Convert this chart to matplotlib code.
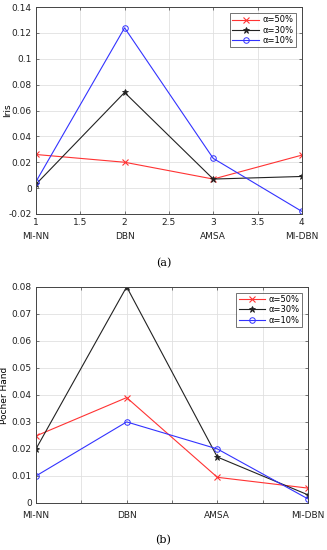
import matplotlib as mpl
mpl.use('Agg')
import matplotlib.pyplot as plt

methods = ['MI-NN', 'DBN', 'AMSA', 'MI-DBN']
xs = [1, 2, 3, 4]
labels = ['α=50%', 'α=30%', 'α=10%']

# (a) Iris
iris_50 = [0.026, 0.020, 0.007, 0.0255]
iris_30 = [0.003, 0.074, 0.007, 0.009]
iris_10 = [0.005, 0.124, 0.023, -0.018]

# (b) Pocher Hand
poker_50 = [0.0248, 0.039, 0.0095, 0.0055]
poker_30 = [0.020, 0.080, 0.017, 0.003]
poker_10 = [0.010, 0.030, 0.020, 0.0015]

plt.rcParams['font.family'] = ['DejaVu Sans']
plt.rcParams['font.size'] = 6.5

styles = [dict(color='#ff3333', marker='x', ms=4, mew=0.8),
          dict(color='#222222', marker='*', ms=4.5, mew=0.6),
          dict(color='#3333ff', marker='o', ms=4, mfc='none', mew=0.7)]


def style_axes(ax):
    for s in ax.spines.values():
        s.set_color('#444444')
        s.set_linewidth(0.7)
    ax.tick_params(direction='in', top=True, right=True, length=2.5,
                   width=0.5, colors='#444444', labelcolor='#222222', pad=3)
    ax.grid(True, color='#e0e0e0', linewidth=0.6)
    ax.set_axisbelow(True)


def draw(ax, series):
    for ys, lab, st in zip(series, labels, styles):
        ax.plot(xs, ys, lw=0.8, label=lab, **st)
    leg = ax.legend(loc='upper right', fancybox=False, edgecolor='#333333',
                    fontsize=6, handlelength=3.2, borderpad=0.3,
                    labelspacing=0.15, handletextpad=0.4, borderaxespad=0.7)
    leg.get_frame().set_linewidth(0.6)


fig = plt.figure(figsize=(3.27, 5.5), dpi=100)

ax1 = fig.add_axes([0.110, 0.611, 0.813, 0.376])
draw(ax1, [iris_50, iris_30, iris_10])
ax1.set_xlim(1, 4)
ax1.set_ylim(-0.02, 0.14)
ax1.set_xticks([1, 1.5, 2, 2.5, 3, 3.5, 4])
ax1.set_xticklabels(['1', '1.5', '2', '2.5', '3', '3.5', '4'])
ax1.set_yticks([-0.02, 0, 0.02, 0.04, 0.06, 0.08, 0.1, 0.12, 0.14])
ax1.set_yticklabels(['-0.02', '0', '0.02', '0.04', '0.06', '0.08', '0.1', '0.12', '0.14'])
ax1.set_ylabel('Iris')
ax1.yaxis.set_label_coords(-0.09, 0.5)
style_axes(ax1)
for x, m in zip(xs, methods):
    ax1.annotate(m, xy=(x, 0), xycoords=('data', 'axes fraction'),
                 xytext=(0, -16.5), textcoords='offset points',
                 ha='center', va='center', fontsize=6.5, color='#222222')
fig.text(0.5, 0.522, '(a)', ha='center', va='center', fontsize=8,
         family='DejaVu Serif')

ax2 = fig.add_axes([0.110, 0.0855, 0.832, 0.393])
draw(ax2, [poker_50, poker_30, poker_10])
ax2.set_xlim(1, 4)
ax2.set_ylim(0, 0.08)
ax2.set_xticks(xs)
ax2.set_xticklabels(methods)
ax2.set_xticks([1.5, 2.5, 3.5], minor=True)
ax2.grid(True, which='minor', axis='x', color='#e0e0e0', linewidth=0.6)
ax2.set_yticks([0, 0.01, 0.02, 0.03, 0.04, 0.05, 0.06, 0.07, 0.08])
ax2.set_yticklabels(['0', '0.01', '0.02', '0.03', '0.04', '0.05', '0.06', '0.07', '0.08'])
ax2.set_ylabel('Pocher Hand')
ax2.yaxis.set_label_coords(-0.10, 0.5)
style_axes(ax2)
ax2.tick_params(which='minor', direction='in', top=True, length=2.5, width=0.5,
                colors='#444444')
ax2.tick_params(axis='x', pad=6)
fig.text(0.5, 0.018, '(b)', ha='center', va='center', fontsize=8,
         family='DejaVu Serif')

plt.savefig('out.png', dpi=100)
